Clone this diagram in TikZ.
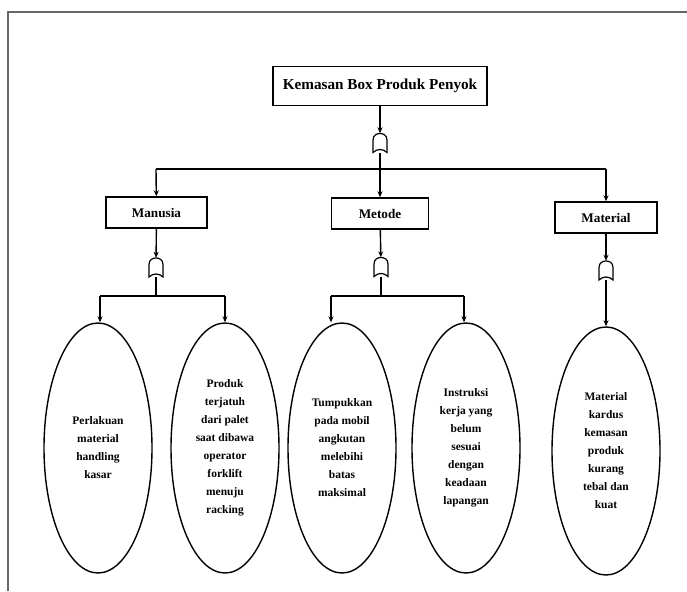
\documentclass[tikz,border=0pt]{standalone}
\usepackage{fontspec}
\setmainfont{Liberation Serif}
\usetikzlibrary{shapes.geometric,arrows.meta,calc}
\begin{document}
\begin{tikzpicture}[x=1pt,y=-1pt,
 line/.style={line width=1.4pt, draw=black},
 arr/.style={line, -{Stealth[length=6pt,width=5pt]}},
 boxnode/.style={draw=black, line width=1.4pt, rectangle, inner sep=0pt, font=\bfseries\fontsize{13.2}{15}\selectfont},
 oval/.style={draw=black, ellipse, line width=1.4pt, minimum width=108pt, minimum height=250pt, inner sep=0pt, align=center, font=\bfseries\fontsize{11.5}{18}\selectfont},
 gatebox/.style={minimum width=14pt, minimum height=19pt, inner sep=0pt},
 frame/.style={draw=black!60, line width=1.2pt},
]
\useasboundingbox (0,0) rectangle (687,591);
\newcommand\gateshape[1]{\draw[line, line width=1.2pt, shift={(#1.center)}] (-7,9.5) -- (-7,-3) .. controls (-7,-8) and (-3,-9.5) .. (0,-9.5) .. controls (3,-9.5) and (7,-8) .. (7,-3) -- (7,9.5) .. controls (3,5.5) and (-3,5.5) .. (-7,9.5) -- cycle;}
% frame
\draw[frame] (8,591) -- (8,12) -- (687,12);

% nodes
\node[boxnode, minimum width=214pt, minimum height=39pt, font=\bfseries\fontsize{15.2}{17}\selectfont] (top) at (380,86) {Kemasan Box Produk Penyok};
\node[gatebox] (g0) at (380,143) {};
\node[boxnode, minimum width=101pt, minimum height=31pt] (man) at (156.5,212.5) {Manusia};
\node[boxnode, minimum width=97pt, minimum height=31pt] (met) at (380,213.5) {Metode};
\node[boxnode, minimum width=102pt, minimum height=31pt] (mat) at (606,217.5) {Material};
\node[gatebox] (g1) at (156,267.5) {};
\node[gatebox] (g2) at (381,267) {};
\node[gatebox] (g3) at (606,270.5) {};

\node[oval] (e1) at (98,448) {Perlakuan\\material\\handling\\kasar};
\node[oval] (e2) at (225,448) {Produk\\terjatuh\\dari palet\\saat dibawa\\operator\\forklift\\menuju\\racking};
\node[oval] (e3) at (342,448) {Tumpukkan\\pada mobil\\angkutan\\melebihi\\batas\\maksimal};
\node[oval] (e4) at (466,448) {Instruksi\\kerja yang\\belum\\sesuai\\dengan\\keadaan\\lapangan};
\node[oval, minimum height=248pt] (e5) at (606,451) {Material\\kardus\\kemasan\\produk\\kurang\\tebal dan\\kuat};

\foreach \g in {g0,g1,g2,g3} {\gateshape{\g}}

% coordinates
\coordinate (jL) at (156,169);
\coordinate (jR) at (606,169);
\coordinate (j1a) at (100,296);
\coordinate (j1b) at (225,296);
\coordinate (j1) at (156,296);
\coordinate (j2a) at (331,296);
\coordinate (j2b) at (464,296);
\coordinate (j2) at (381,296);

% connectors
\draw[arr] (top) -- (g0);
\draw[arr] (g0) -- (met);
\draw[line] (jL) -- (jR);
\draw[arr] (jL) -- (man);
\draw[arr] (jR) -- (mat);

\draw[arr] (man) -- (g1);
\draw[line] (g1) -- (j1);
\draw[line] (j1a) -- (j1b);
\draw[arr] (j1a) -- (j1a |- e1.north);
\draw[arr] (j1b) -- (j1b |- e2.north);

\draw[arr] (met) -- (g2);
\draw[line] (g2) -- (j2);
\draw[line] (j2a) -- (j2b);
\draw[arr] (j2a) -- (j2a |- e3.north);
\draw[arr] (j2b) -- (j2b |- e4.north);

\draw[arr] (mat) -- (g3);
\draw[arr] (g3) -- (e5);
\end{tikzpicture}
\end{document}
